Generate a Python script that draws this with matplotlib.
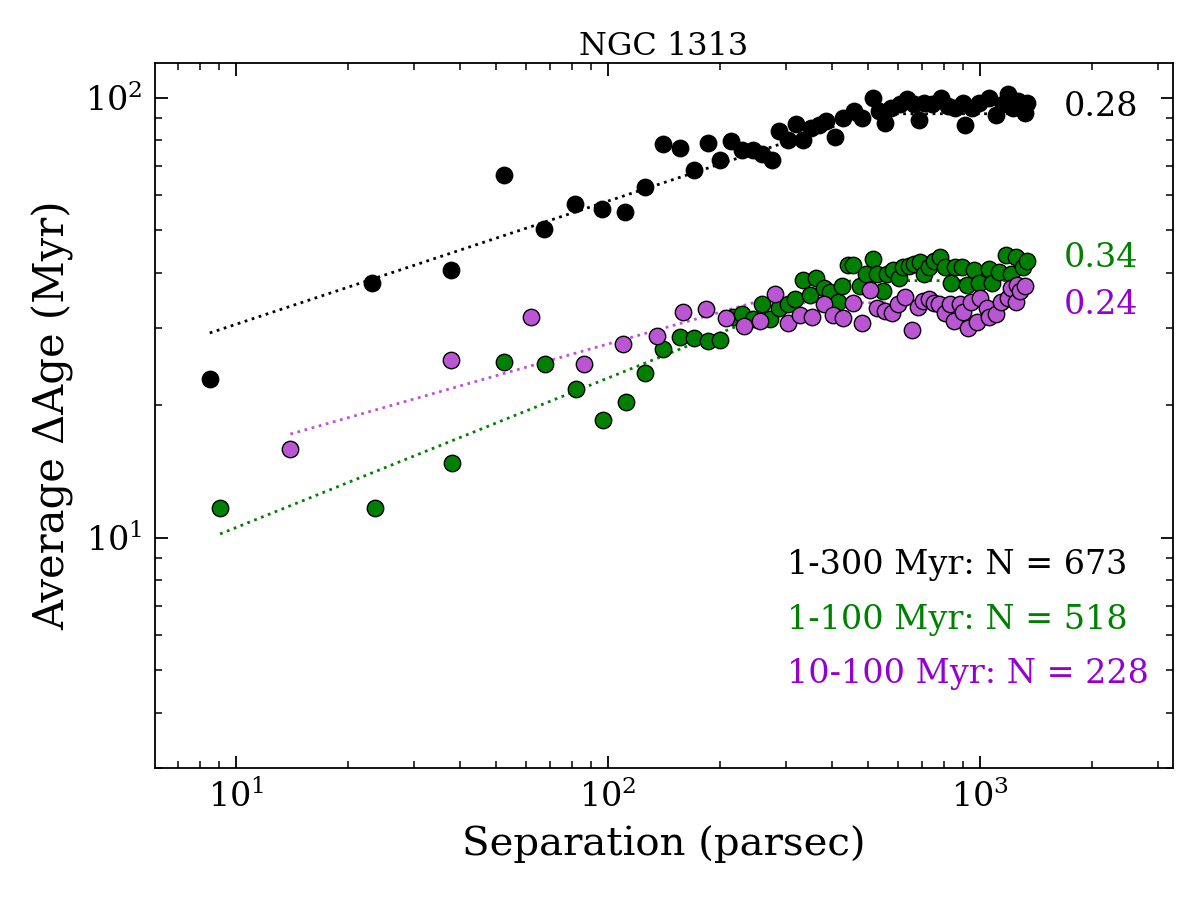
import matplotlib
matplotlib.use("Agg")
import matplotlib.pyplot as plt
import numpy as np
from matplotlib.ticker import LogLocator, NullFormatter

plt.rcParams['font.family'] = 'DejaVu Serif'
plt.rcParams['mathtext.fontset'] = 'dejavuserif'

# 1-300 Myr (black)
sep_all = [8.5, 23.2, 37.9, 52.5, 67.3, 81.5, 96.3, 111, 126, 140.6, 156, 170, 186, 200,
           214, 229, 245, 259, 276, 288, 305, 320, 334, 351, 369, 385, 407, 428, 458,
           482, 515, 535, 556, 577, 609, 636, 665, 686, 707, 743, 785, 820, 857, 900,
           912, 951, 994, 1057, 1104, 1153, 1189, 1227, 1265, 1321, 1337]
age_all = [22.9, 38.0, 40.6, 66.8, 50.4, 57.4, 56.0, 55.1, 62.8, 78.6, 76.9, 68.6, 79.0, 72.3,
           79.9, 76.2, 76.2, 74.6, 72.3, 84.1, 80.3, 87.3, 80.3, 85.4, 86.8, 88.6, 81.5, 90.1, 93.4,
           90.1, 100.0, 93.4, 87.8, 95.0, 96.9, 99.5, 96.9, 89.1, 97.4, 96.9, 100.0, 95.9, 95.0, 97.4,
           86.8, 95.0, 97.4, 100.0, 91.5, 96.9, 102.2, 95.0, 98.4, 92.4, 97.4]

# 1-100 Myr (green)
sep_mid = [9.06, 23.7, 38.1, 52.5, 67.7, 82.0, 97.0, 112, 126, 140.6, 156, 170, 186, 200,
           217, 229, 245, 259, 273, 288, 305, 318, 334, 349, 362, 381, 395, 415, 425, 442,
           456, 476, 494, 515, 528, 548, 562, 583, 606, 621, 644, 665, 690, 707, 729, 752,
           780, 805, 836, 857, 895, 923, 964, 994, 1057, 1077, 1125, 1175, 1212, 1250,
           1305, 1337]
age_mid = [11.7, 11.7, 14.8, 25.1, 24.8, 21.8, 18.5, 20.4, 23.7, 26.9, 28.6, 28.5, 28.0, 28.2,
           31.8, 32.3, 31.5, 34.0, 31.5, 33.3, 33.9, 34.8, 38.6, 35.7, 39.0, 37.0, 36.1, 34.4, 37.4, 41.7,
           41.7, 37.4, 39.8, 43.1, 39.8, 36.4, 39.8, 40.5, 39.0, 41.3, 41.5, 42.0, 42.4, 39.8, 41.3, 42.6,
           43.5, 41.3, 38.0, 41.3, 41.3, 37.6, 40.5, 38.0, 40.8, 38.0, 40.2, 44.0, 39.8, 43.5,
           41.3, 42.6]

# 10-100 Myr (purple)
sep_old = [14.0, 37.9, 62.1, 86.1, 110, 135, 159, 183, 207, 232, 256, 281, 305, 328, 353,
           381, 403, 428, 456, 482, 506, 528, 556, 580, 602, 628, 656, 681, 703, 729, 752,
           776, 805, 830, 851, 883, 899, 929, 946, 982, 1000, 1045, 1057, 1104, 1138, 1189,
           1212, 1250, 1257, 1282, 1321]
age_old = [15.9, 25.4, 31.8, 24.8, 27.6, 28.8, 32.6, 33.1, 31.6, 30.3, 31.1, 35.9, 30.8, 32.0, 31.8,
           33.9, 32.0, 31.6, 34.2, 30.8, 36.6, 33.3, 32.8, 32.5, 33.9, 35.3, 29.7, 33.5, 34.6, 34.8, 34.2,
           33.9, 32.5, 33.9, 31.1, 33.9, 32.6, 29.9, 34.4, 31.0, 35.1, 33.3, 31.8, 32.2, 34.4, 35.1,
           37.0, 34.4, 37.6, 36.4, 37.4]

# power-law fits: amplitude, slope, plateau
fit_amp = [16.04, 4.82, 9.13]
fit_slope = [0.28, 0.34, 0.24]
fit_plateau = [92.0, 38.4, 34.2]
slope_labels = ['0.28', '0.34', '0.24']
range_labels = ['1-300 Myr: N = 673', '1-100 Myr: N = 518', '10-100 Myr: N = 228']

fig = plt.figure(figsize=(12, 9), dpi=100)
ax = fig.add_axes([0.129, 0.147, 0.8485, 0.783])

samples = [(sep_all, age_all), (sep_mid, age_mid), (sep_old, age_old)]
face = ['black', 'green', 'mediumorchid']
line_col = ['black', 'green', 'mediumorchid']
text_col = ['black', 'green', 'darkviolet']

for i, (sx, sy) in enumerate(samples):
    xf = np.logspace(np.log10(min(sx)), np.log10(max(sx)), 200)
    yf = np.minimum(fit_amp[i] * xf ** fit_slope[i], fit_plateau[i])
    ax.plot(xf, yf, ls=':', lw=2, color=line_col[i], zorder=2)

for i, (sx, sy) in enumerate(samples):
    ax.scatter(sx, sy, s=140, c=face[i], edgecolors='black', linewidths=1, zorder=3)

ax.set_xscale('log')
ax.set_yscale('log')
ax.set_xlim(6.05, 3300)
ax.set_ylim(3.0, 120)

ax.xaxis.set_minor_locator(LogLocator(base=10, subs=np.arange(2, 10)))
ax.yaxis.set_minor_locator(LogLocator(base=10, subs=np.arange(2, 10)))
ax.xaxis.set_minor_formatter(NullFormatter())
ax.yaxis.set_minor_formatter(NullFormatter())
ax.tick_params(which='both', direction='in', top=True, right=True, labelsize=24, pad=9)
ax.tick_params(which='major', length=9, width=1.3)
ax.tick_params(which='minor', length=5, width=1.1)
for sp in ax.spines.values():
    sp.set_linewidth(1.3)

ax.set_xlabel('Separation (parsec)', fontsize=29, labelpad=8)
ax.set_ylabel('Average ΔAge (Myr)', fontsize=30, labelpad=8)
ax.set_title('NGC 1313', fontsize=23, pad=6)

slope_y = [0.938, 0.723, 0.657]
for i in range(3):
    ax.text(0.966, slope_y[i], slope_labels[i], transform=ax.transAxes, ha='right',
            va='center', fontsize=24, color=text_col[i])
    ax.text(0.621, 0.287 - i * 0.077, range_labels[i], transform=ax.transAxes, ha='left',
            va='center', fontsize=24, color=text_col[i])

fig.savefig('out.png', dpi=100)
